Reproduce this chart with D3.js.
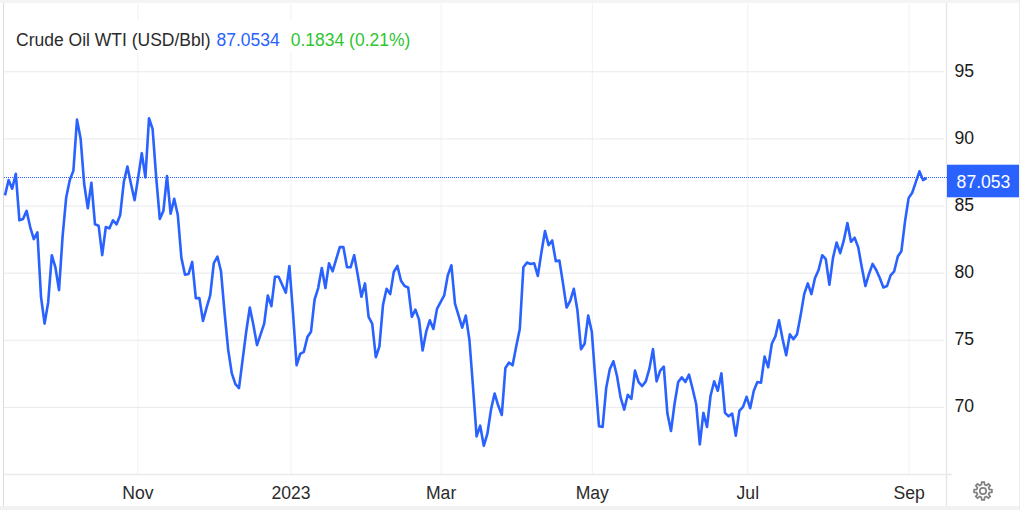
<!DOCTYPE html>
<html><head><meta charset="utf-8">
<style>html,body{margin:0;padding:0;background:#fff}svg{display:block}text{font-family:"Liberation Sans",Arial,sans-serif}</style>
<script src="https://cdnjs.cloudflare.com/ajax/libs/d3/7.8.5/d3.min.js"></script>
</head><body><svg id="c" width="1024" height="510"></svg>
<script>
const prices = [85.76,86.9,86.25,87.37,83.9,84.0,84.6,83.4,82.5,83.0,78.2,76.2,77.8,81.3,80.4,78.7,82.7,85.6,86.9,87.6,91.4,90.0,86.6,84.8,86.7,83.6,83.5,81.3,83.4,83.3,83.9,83.6,84.3,86.75,87.9,86.6,85.4,87.1,88.9,87.1,91.5,90.7,87.1,84.0,84.6,87.2,84.4,85.5,84.3,81.1,79.85,79.9,80.8,78.1,78.1,76.4,77.4,78.3,80.7,81.2,80.1,77.0,74.25,72.5,71.7,71.4,73.5,75.6,77.4,76.1,74.6,75.4,76.2,78.3,77.5,79.7,79.7,79.1,78.5,80.5,77.0,73.1,73.95,74.1,75.2,75.6,78.0,78.85,80.35,78.85,80.7,80.1,81.0,81.9,81.9,80.4,80.4,81.3,79.8,78.2,79.2,76.7,76.2,73.7,74.5,77.6,78.8,78.4,80.05,80.5,79.4,79.0,78.9,76.7,77.25,76.5,74.2,75.6,76.45,75.8,77.3,77.8,78.3,79.8,80.55,77.7,76.8,75.9,76.8,75.0,71.5,67.8,68.6,67.1,68.0,69.8,71.0,70.1,69.4,72.9,73.3,73.1,74.5,75.8,80.4,80.75,80.65,80.7,79.75,81.5,83.1,82.05,82.4,80.85,80.9,79.2,77.4,77.9,78.8,77.2,74.3,74.7,76.8,75.6,72.0,68.55,68.5,71.4,72.8,73.4,72.3,70.7,69.8,70.9,70.6,72.7,71.85,71.55,71.9,72.85,74.3,71.9,72.7,73.0,69.5,68.2,70.25,71.85,72.2,71.85,72.4,71.35,70.2,67.2,69.55,68.5,70.85,71.9,71.2,72.5,69.55,69.3,69.5,67.85,69.7,70.0,70.75,69.9,71.2,71.85,71.8,73.75,72.95,74.7,75.25,76.45,75.05,73.85,75.4,75.05,75.4,76.8,78.4,79.2,78.4,79.6,80.2,81.3,81.0,79.1,81.1,82.25,81.45,82.4,83.7,82.3,82.6,81.9,80.4,79.0,79.9,80.65,80.2,79.6,78.9,79.0,79.8,80.1,81.2,81.6,83.8,85.55,85.95,86.75,87.55,86.9,87.05];
const yTicks = [70,75,80,85,90,95];
const xTickLabels = ["Nov","2023","Mar","May","Jul","Sep"];
const xTickIndex = [36.8,79.3,121,163,206.2,251];
const lastValue = 87.0534;
const titleText = "Crude Oil WTI (USD/Bbl)";
const valueText = "87.0534";
const changeText = "0.1834 (0.21%)";

const svg = d3.select("#c");
const L=3.5,R=946.5,T=4,B=474.5;
const x = d3.scaleLinear().domain([0,prices.length-1]).range([5,926.6]);
const y = d3.scaleLinear().domain([65,95]).range([474,71.3]);
const blue="#2962ff", grid="#e8e9ec", vgrid="#edf2f8";

svg.append("rect").attr("width",1020).attr("height",3).attr("fill","#f4f4f4");
svg.append("rect").attr("y",506).attr("width",1020).attr("height",4).attr("fill","#f1f1f1");
svg.append("line").attr("x1",L).attr("x2",L).attr("y1",3).attr("y2",506).attr("stroke","#dcdcdc").attr("stroke-width",1);
svg.append("line").attr("x1",1019.5).attr("x2",1019.5).attr("y1",0).attr("y2",510).attr("stroke","#ececec").attr("stroke-width",1);

const xg = svg.append("g").attr("transform",`translate(0,${B})`)
 .call(d3.axisBottom(x).tickValues(xTickIndex).tickFormat((d,i)=>xTickLabels[i]).tickSize(-(B-T)).tickPadding(12));
xg.select(".domain").remove();
xg.selectAll("line").attr("stroke",vgrid);
xg.selectAll("text").attr("font-size",17.6).attr("fill","#2b2b2b");

const yg = svg.append("g").attr("transform",`translate(${R},0)`)
 .call(d3.axisRight(y).tickValues(yTicks).tickFormat(d3.format("d")).tickSize(-(R-L-2)).tickPadding(8));
yg.select(".domain").remove();
yg.selectAll("line").attr("stroke",grid).attr("transform","translate(-2,0)");
yg.selectAll("text").attr("font-size",17.6).attr("fill","#1a1a1a").attr("dy","0.27em");

svg.append("line").attr("x1",L).attr("x2",952).attr("y1",B).attr("y2",B).attr("stroke",grid).attr("stroke-width",1.5);
svg.append("line").attr("x1",R).attr("x2",R).attr("y1",3).attr("y2",506).attr("stroke","#e6e7ea").attr("stroke-width",1.4);

svg.append("rect").attr("x",10).attr("y",20).attr("width",405).attr("height",33).attr("fill","#fff");
const t = svg.append("text").attr("x",16).attr("y",45.5).attr("font-size",17.5);
t.append("tspan").attr("fill","#2b2b2b").text(titleText);
t.append("tspan").attr("fill",blue).attr("dx",6).text(valueText);
t.append("tspan").attr("fill","#2fc52f").attr("dx",11).text(changeText);

svg.append("line").datum(lastValue).attr("x1",L).attr("x2",R)
 .attr("y1",d=>Math.round(y(d))-0.5).attr("y2",d=>Math.round(y(d))-0.5)
 .attr("stroke",blue).attr("stroke-width",1).attr("stroke-dasharray","1 1").attr("shape-rendering","crispEdges");

svg.append("path").datum(prices).attr("fill","none").attr("stroke",blue).attr("stroke-width",2.6).attr("stroke-linejoin","round")
 .attr("d",d3.line().x((d,i)=>x(i)).y(d=>y(d)));

svg.append("rect").attr("x",947).attr("y",164.7).attr("width",72).attr("height",32.6).attr("fill",blue);
svg.append("text").attr("x",983.5).attr("y",187.5).attr("text-anchor","middle").attr("font-size",17.6).attr("fill","#fff").text(d3.format(".3f")(lastValue));

// settings gear
const gear = svg.append("g").attr("transform","translate(983,491)").attr("fill","none").attr("stroke","#808080");
gear.append("circle").attr("r",3.2).attr("stroke-width",1.7);
gear.append("path").attr("stroke-width",1.7).attr("d",d3.range(8).map(i=>{
  const a0=(i-0.18)*Math.PI/4,a1=(i+0.18)*Math.PI/4,a2=(i+0.32)*Math.PI/4,a3=(i+0.68)*Math.PI/4;
  const p=(r,a)=>`${(r*Math.cos(a)).toFixed(2)},${(r*Math.sin(a)).toFixed(2)}`;
  return (i?"L":"M")+p(9,a0)+"L"+p(9,a1)+"L"+p(6.5,a2)+"L"+p(6.5,a3);
}).join("")+"Z");
</script></body></html>
